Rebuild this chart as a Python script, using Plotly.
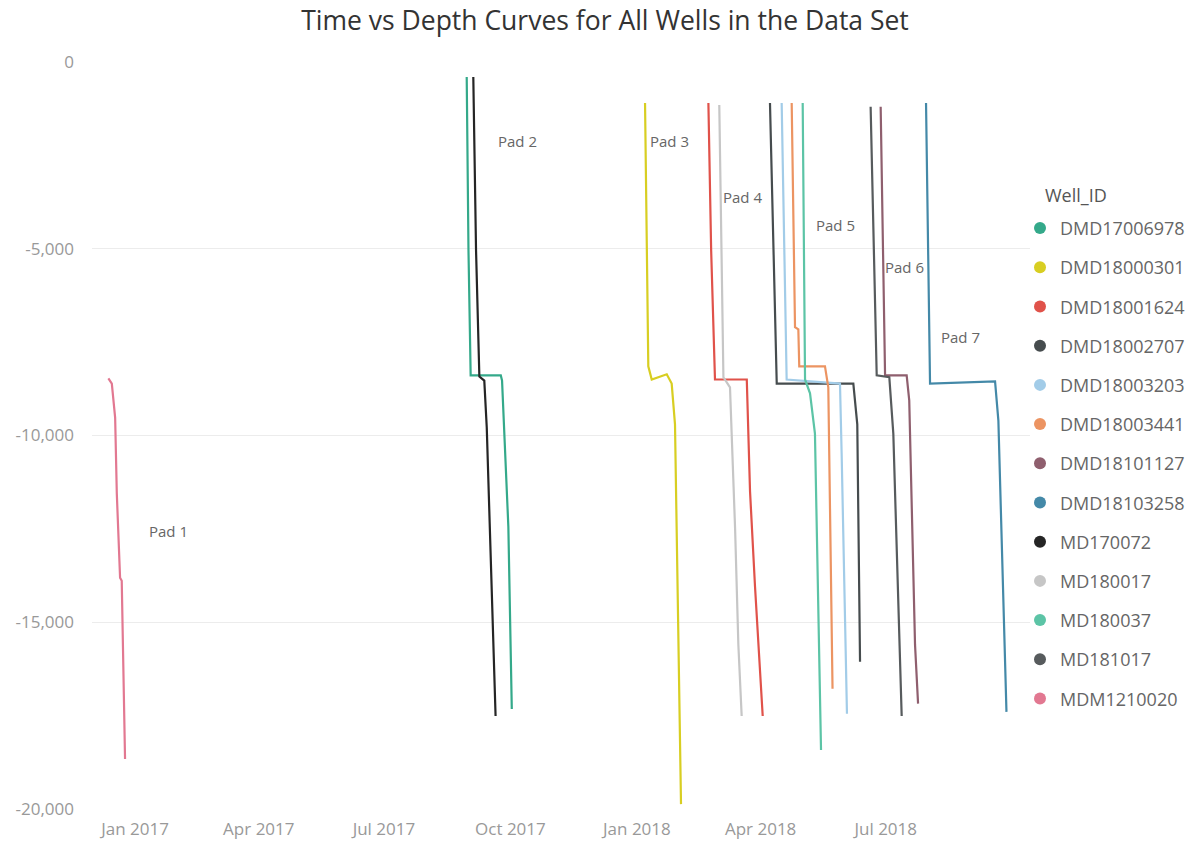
import plotly.graph_objects as go

# ---------------- data ----------------
well_ids = ["DMD17006978", "DMD18000301", "DMD18001624", "DMD18002707",
            "DMD18003203", "DMD18003441", "DMD18101127", "DMD18103258",
            "MD170072", "MD180017", "MD180037", "MD181017", "MDM1210020"]

mdm1210020_time = ["2016-12-12 14:00", "2016-12-15 02:00", "2016-12-17 12:00", "2016-12-18 17:00",
                   "2016-12-21 02:00", "2016-12-22 07:00", "2016-12-24 17:00"]
mdm1210020_depth = [-8470, -8610, -9520, -11550, -13810, -13890, -18660]

dmd17006978_time = ["2017-08-30 05:00", "2017-08-31 12:00", "2017-09-02 02:00", "2017-09-24 00:00",
                    "2017-09-24 22:00", "2017-09-29 12:00", "2017-10-02 00:00"]
dmd17006978_depth = [-400, -5040, -8390, -8390, -8530, -12440, -17320]

md170072_time = ["2017-09-04 00:00", "2017-09-06 00:00", "2017-09-08 10:00", "2017-09-12 00:00",
                 "2017-09-13 19:00", "2017-09-18 02:00", "2017-09-20 05:00"]
md170072_depth = [-400, -5040, -8420, -8530, -9790, -14560, -17510]

dmd18000301_time = ["2018-01-06 22:00", "2018-01-08 10:00", "2018-01-09 07:00", "2018-01-11 19:00",
                    "2018-01-22 17:00", "2018-01-26 07:00", "2018-01-28 17:00", "2018-02-02 02:00"]
dmd18000301_depth = [-1100, -5040, -8150, -8500, -8360, -8610, -9700, -19870]

dmd18001624_time = ["2018-02-22 00:00", "2018-02-24 00:00", "2018-02-26 19:00", "2018-03-21 22:00",
                    "2018-03-24 07:00", "2018-03-27 22:00", "2018-04-02 12:00"]
dmd18001624_depth = [-1100, -5040, -8500, -8500, -11500, -14050, -17510]

md180017_time = ["2018-03-01 22:00", "2018-03-03 12:00", "2018-03-04 22:00", "2018-03-09 17:00",
                 "2018-03-13 10:00", "2018-03-15 19:00", "2018-03-18 05:00"]
md180017_depth = [-1150, -5040, -8440, -8710, -12490, -15600, -17510]

dmd18002707_time = ["2018-04-07 19:00", "2018-04-11 12:00", "2018-04-12 17:00", "2018-06-07 10:00",
                    "2018-06-10 07:00", "2018-06-12 07:00"]
dmd18002707_depth = [-1100, -7370, -8610, -8610, -9700, -16060]

dmd18003203_time = ["2018-04-16 07:00", "2018-04-19 22:00", "2018-05-28 17:00", "2018-05-29 22:00",
                    "2018-06-02 19:00"]
dmd18003203_depth = [-1100, -8500, -8610, -10480, -17450]

dmd18003441_time = ["2018-04-23 14:00", "2018-04-26 00:00", "2018-04-28 10:00", "2018-04-29 02:00",
                    "2018-05-17 19:00", "2018-05-20 05:00", "2018-05-23 07:00"]
dmd18003441_depth = [-1100, -7100, -7160, -8150, -8150, -8710, -16780]

md180037_time = ["2018-05-01 14:00", "2018-05-03 07:00", "2018-05-06 22:00", "2018-05-10 12:00",
                 "2018-05-14 22:00"]
md180037_depth = [-1100, -8500, -8870, -9950, -18420]

md181017_time = ["2018-06-20 00:00", "2018-06-24 10:00", "2018-07-03 14:00", "2018-07-06 12:00",
                 "2018-07-12 14:00"]
md181017_depth = [-1200, -8390, -8440, -9950, -17510]

dmd18101127_time = ["2018-06-27 07:00", "2018-06-30 12:00", "2018-07-16 05:00", "2018-07-18 02:00",
                    "2018-07-22 07:00", "2018-07-24 12:00"]
dmd18101127_depth = [-1200, -8390, -8390, -9060, -15600, -17180]

dmd18103258_time = ["2018-07-30 07:00", "2018-08-02 05:00", "2018-09-18 12:00", "2018-09-20 22:00",
                    "2018-09-26 19:00"]
dmd18103258_depth = [-1100, -8610, -8550, -9600, -17400]

pad_labels = ["Pad 1", "Pad 2", "Pad 3", "Pad 4", "Pad 5", "Pad 6", "Pad 7"]
pad_label_time = ["2017-01-25 00:00", "2017-10-05 19:00", "2018-01-24 10:00", "2018-03-18 12:00",
                  "2018-05-25 19:00", "2018-07-14 07:00", "2018-08-24 00:00"]
pad_label_depth = [-12550, -2120, -2120, -3620, -4370, -5500, -7370]

x_tick_vals = ["2017-01-01", "2017-04-01", "2017-07-01", "2017-10-01",
               "2018-01-01", "2018-04-01", "2018-07-01"]
x_tick_text = ["Jan 2017", "Apr 2017", "Jul 2017", "Oct 2017", "Jan 2018", "Apr 2018", "Jul 2018"]
y_tick_vals = [0, -5000, -10000, -15000, -20000]
y_tick_text = ["0", "-5,000", "-10,000", "-15,000", "-20,000"]

# ---------------- styles ----------------
series = {
    "DMD17006978": (dmd17006978_time, dmd17006978_depth),
    "DMD18000301": (dmd18000301_time, dmd18000301_depth),
    "DMD18001624": (dmd18001624_time, dmd18001624_depth),
    "DMD18002707": (dmd18002707_time, dmd18002707_depth),
    "DMD18003203": (dmd18003203_time, dmd18003203_depth),
    "DMD18003441": (dmd18003441_time, dmd18003441_depth),
    "DMD18101127": (dmd18101127_time, dmd18101127_depth),
    "DMD18103258": (dmd18103258_time, dmd18103258_depth),
    "MD170072": (md170072_time, md170072_depth),
    "MD180017": (md180017_time, md180017_depth),
    "MD180037": (md180037_time, md180037_depth),
    "MD181017": (md181017_time, md181017_depth),
    "MDM1210020": (mdm1210020_time, mdm1210020_depth),
}
colors = {
    "DMD17006978": "#34a98a",
    "DMD18000301": "#d8ce22",
    "DMD18001624": "#e0524a",
    "DMD18002707": "#464c4e",
    "DMD18003203": "#a2cce8",
    "DMD18003441": "#ec9462",
    "DMD18101127": "#8f5f6e",
    "DMD18103258": "#4489a8",
    "MD170072": "#252525",
    "MD180017": "#c6c6c6",
    "MD180037": "#5cc4a6",
    "MD181017": "#575b5d",
    "MDM1210020": "#e27891",
}

FONT = "Segoe UI, Open Sans, sans-serif"
W, H = 1192, 843
ML, MR, MT, MB = 92, 162, 62, 34
plot_w = W - ML - MR
plot_h = H - MT - MB

fig = go.Figure()
for w in well_ids:
    t, d = series[w]
    fig.add_trace(go.Scatter(x=t, y=d, mode="lines", name=w,
                             line=dict(color=colors[w], width=2.2),
                             showlegend=False, legendgroup=w))
# legend entries with circle symbols
for w in well_ids:
    fig.add_trace(go.Scatter(x=[None], y=[None], mode="markers", name=w,
                             marker=dict(color=colors[w], size=14, symbol="circle"),
                             showlegend=True, legendgroup=w))

for lab, t, d in zip(pad_labels, pad_label_time, pad_label_depth):
    fig.add_annotation(x=t, y=d, xref="x", yref="y", text=lab, showarrow=False,
                       font=dict(family=FONT, size=15, color="#666666"))

# legend title
fig.add_annotation(x=(1043 - ML) / plot_w, y=1 - (195 - MT) / plot_h,
                   xref="paper", yref="paper", text="Well_ID",
                   showarrow=False, xanchor="left", yanchor="middle",
                   font=dict(family=FONT, size=18, color="#555555"))

fig.update_layout(
    width=W, height=H,
    autosize=False,
    paper_bgcolor="white", plot_bgcolor="white",
    margin=dict(l=ML, r=MR, t=MT, b=MB, autoexpand=False),
    title=dict(text="Time vs Depth Curves for All Wells in the Data Set",
               x=605 / W, xref="container", xanchor="center", y=0.976, yanchor="middle",
               font=dict(family=FONT, size=26.5, color="#333333")),
    font=dict(family=FONT, color="#999999"),
    legend=dict(font=dict(family=FONT, size=18, color="#666666"),
                x=(1020 - ML) / plot_w, xanchor="left",
                y=0.794 + 6 / plot_h, yanchor="top",
                traceorder="grouped", tracegroupgap=12.8, itemsizing="constant",
                bgcolor="rgba(0,0,0,0)"),
    xaxis=dict(type="date", range=["2016-11-30 16:00", "2018-10-13 22:00"],
               tickvals=x_tick_vals, ticktext=x_tick_text, automargin=False,
               showgrid=False, zeroline=False, showline=False,
               ticklabelstandoff=8,
               tickfont=dict(family=FONT, size=17, color="#999999"), ticks=""),
    yaxis=dict(range=[-20000, 0], tickvals=y_tick_vals, ticktext=y_tick_text,
               automargin=False,
               showgrid=True, gridcolor="#ececec", gridwidth=1, zeroline=False,
               showline=False, ticks="", ticklabelstandoff=17,
               tickfont=dict(family=FONT, size=17, color="#999999")),
)

fig.write_html("out.html", config={"displayModeBar": False},
               post_script="document.body.style.margin='0';")
